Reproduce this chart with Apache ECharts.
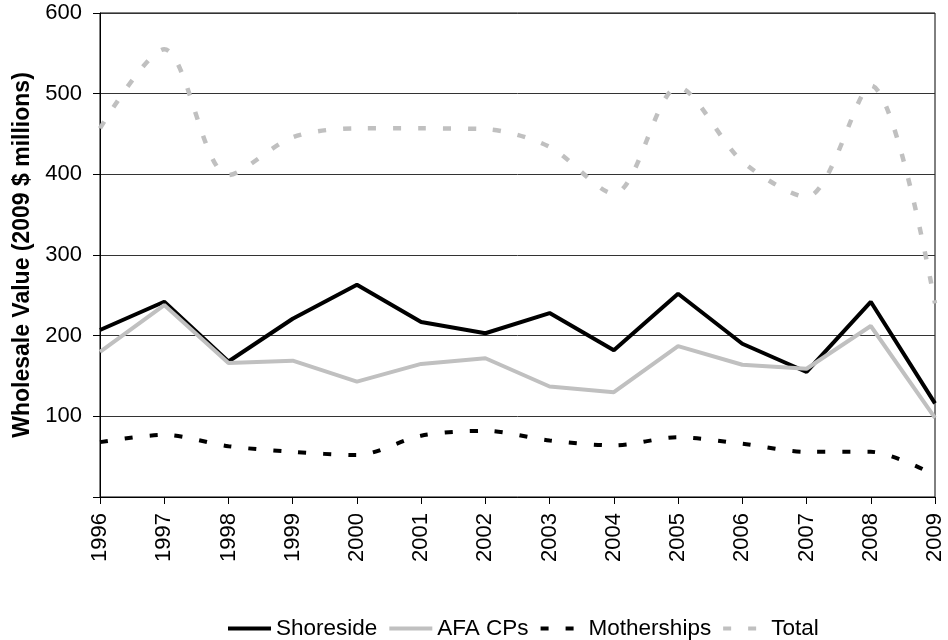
<!DOCTYPE html>
<html>
<head>
<meta charset="utf-8">
<script src="https://cdn.jsdelivr.net/npm/echarts@6/dist/echarts.min.js"></script>
<style>
  html, body { margin: 0; padding: 0; background: #fff; }
  #chartContainer { width: 948px; height: 640px; }
</style>
</head>
<body>
<div id="chartContainer"></div>
<script>
// 年份
const years = ["1996", "1997", "1998", "1999", "2000", "2001", "2002", "2003", "2004", "2005", "2006", "2007", "2008", "2009"];

// 各部门批发价值 (2009 $ millions)
const shoreside = [207, 242, 168, 221, 263, 217, 203, 228, 182, 252, 190, 155, 242, 116];
const afaCPs = [180, 238, 166, 169, 143, 165, 172, 137, 130, 187, 164, 159, 212, 98];
const motherships = [68, 77, 63, 56, 52, 76, 82, 70, 64, 74, 66, 56, 56, 27];
const total = [457, 555, 399, 446, 457, 457, 456, 434, 376, 508, 416, 372, 510, 240];

// y轴刻度
const yTicks = [0, 100, 200, 300, 400, 500, 600];

const font = "Liberation Sans, Arial, sans-serif";

var myChart = echarts.init(document.getElementById("chartContainer"));

var option = {
  animation: false,
  grid: {
    left: 100,
    right: 13,
    top: 13,
    bottom: 143,
    show: true,
    borderColor: "#000",
    borderWidth: 1,
  },
  legend: {
    left: 221,
    top: 612,
    itemWidth: 43,
    itemHeight: 8,
    itemGap: 10,
    // 去掉图例里的圆点
    itemStyle: { opacity: 0 },
    lineStyle: { width: 4 },
    textStyle: { fontFamily: font, fontSize: 22.5, color: "#000" },
    data: ["Shoreside", "AFA CPs", "Motherships", "Total"],
  },
  xAxis: {
    type: "category",
    data: years,
    boundaryGap: false,
    axisLine: { lineStyle: { color: "#000", width: 1 } },
    axisTick: { show: true, inside: false, length: 7, lineStyle: { color: "#000" } },
    axisLabel: {
      rotate: 90,
      margin: 16,
      fontFamily: font,
      fontSize: 22,
      color: "#000",
    },
    splitLine: { show: false },
  },
  yAxis: {
    type: "value",
    min: yTicks[0],
    max: yTicks[yTicks.length - 1],
    interval: 100,
    name: "Wholesale Value (2009 $ millions)",
    nameLocation: "middle",
    nameGap: 64,
    nameTextStyle: { fontFamily: font, fontSize: 23, fontWeight: "bold", color: "#000" },
    axisLine: { show: true, lineStyle: { color: "#000", width: 1 } },
    axisTick: { show: true, inside: false, length: 7, lineStyle: { color: "#000" } },
    axisLabel: {
      margin: 18,
      fontFamily: font,
      fontSize: 22,
      color: "#000",
      formatter: (v) => (v === 0 ? "" : String(v)),
    },
    splitLine: { show: true, lineStyle: { color: "#333", width: 1 } },
  },
  series: [
    {
      name: "Shoreside",
      type: "line",
      data: shoreside,
      symbol: "none",
      lineStyle: { color: "#000", width: 4 },
      itemStyle: { color: "#000" },
    },
    {
      name: "AFA CPs",
      type: "line",
      data: afaCPs,
      symbol: "none",
      lineStyle: { color: "#c0c0c0", width: 4 },
      itemStyle: { color: "#c0c0c0" },
    },
    {
      name: "Motherships",
      type: "line",
      data: motherships,
      symbol: "none",
      smooth: 0.3,
      lineStyle: { color: "#000", width: 4, type: [8, 17], cap: "butt" },
      itemStyle: { color: "#000" },
    },
    {
      name: "Total",
      type: "line",
      data: total,
      symbol: "none",
      smooth: 0.3,
      lineStyle: { color: "#c0c0c0", width: 4.5, type: [8, 17], cap: "butt" },
      itemStyle: { color: "#c0c0c0" },
    },
  ],
};

myChart.setOption(option);
</script>
</body>
</html>
